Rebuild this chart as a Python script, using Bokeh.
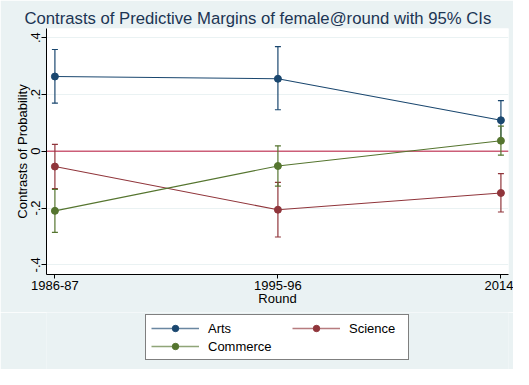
from bokeh.plotting import figure
from bokeh.layouts import column
from bokeh.models import (Range1d, FixedTicker, Whisker, TeeHead, Span,
                          Legend, LegendItem, ColumnDataSource)
from bokeh.embed import file_html
from bokeh.resources import INLINE

# ---- data ----
rounds = ["1986-87", "1995-96", "2014"]
round_pos = [1, 2, 3]

arts = [0.263, 0.255, 0.109]
arts_lo = [0.169, 0.146, 0.040]
arts_hi = [0.358, 0.368, 0.178]

science = [-0.054, -0.206, -0.147]
science_lo = [-0.132, -0.302, -0.214]
science_hi = [0.024, -0.110, -0.079]

commerce = [-0.210, -0.052, 0.037]
commerce_lo = [-0.286, -0.123, -0.014]
commerce_hi = [-0.134, 0.019, 0.088]

y_ticks = [-0.4, -0.2, 0, 0.2, 0.4]
y_tick_labels = ["-.4", "-.2", "0", ".2", ".4"]

series_names = ["Arts", "Science", "Commerce"]
colors = ["#1A476F", "#90353B", "#55752F"]

BG = "#EAF2F3"
FONT = "Liberation Sans"

p = figure(width=513, height=312, output_backend="svg", toolbar_location=None,
           x_range=Range1d(0.9623, 3.034), y_range=Range1d(-0.434, 0.432),
           min_border_left=46, min_border_right=5, min_border_top=28,
           min_border_bottom=38)
p.background_fill_color = "white"
p.border_fill_color = BG
p.outline_line_color = None

p.title.text = "Contrasts of Predictive Margins of female@round with 95% CIs"
p.title.align = "left"
p.title.offset = -22
p.title.standoff = 2
p.title.text_font = FONT
p.title.text_font_size = "16.7px"
p.title.text_font_style = "normal"
p.title.text_color = "#1C3553"

# axes
p.xaxis.ticker = FixedTicker(ticks=round_pos)
p.xaxis.major_label_overrides = {pos: lab for pos, lab in zip(round_pos, rounds)}
p.yaxis.ticker = FixedTicker(ticks=y_ticks)
p.yaxis.major_label_overrides = {t: l for t, l in zip(y_ticks, y_tick_labels)}
p.yaxis.major_label_orientation = "vertical"
for ax in (p.xaxis, p.yaxis):
    ax.axis_line_color = "#000000"
    ax.major_tick_line_color = "#000000"
    ax.minor_tick_line_color = None
    ax.major_tick_in = 0
    ax.major_label_text_font = FONT
    ax.major_label_text_font_size = "13px"
    ax.major_label_text_color = "#000000"
    ax.axis_label_text_font = FONT
    ax.axis_label_text_font_size = "13px"
    ax.axis_label_text_font_style = "normal"
    ax.axis_label_text_color = "#000000"
p.xaxis.major_tick_out = 4
p.yaxis.major_tick_out = 5
p.xaxis.major_label_standoff = 2
p.yaxis.major_label_standoff = 1
p.xaxis.axis_label = "Round"
p.yaxis.axis_label = "Contrasts of Probability"
p.xaxis.axis_label_standoff = -2
p.yaxis.axis_label_standoff = -1

p.xgrid.grid_line_color = None
p.ygrid.ticker = FixedTicker(ticks=y_ticks)
p.ygrid.grid_line_color = BG
p.ygrid.grid_line_width = 1

# reference line at zero
p.add_layout(Span(location=0, dimension="width", line_color="#CC5E78",
                  line_width=1.5, level="underlay"))

all_vals = [(arts, arts_lo, arts_hi), (science, science_lo, science_hi),
            (commerce, commerce_lo, commerce_hi)]
for name, col, (v, lo, hi) in zip(series_names, colors, all_vals):
    src = ColumnDataSource(dict(x=round_pos, y=v, lo=lo, hi=hi))
    w = Whisker(base="x", upper="hi", lower="lo", source=src, dimension="height",
                line_color=col, line_width=1.2,
                upper_head=TeeHead(size=6, line_color=col, line_width=1.2),
                lower_head=TeeHead(size=6, line_color=col, line_width=1.2))
    p.add_layout(w)
    p.line("x", "y", source=src, line_color=col, line_width=1.1)
    p.scatter("x", "y", source=src, size=7, fill_color=col, line_color=col,
              marker="circle")

# ---- legend strip below the plot (series drawn off-range: legend only) ----
q = figure(width=513, height=57, output_backend="svg", toolbar_location=None,
           x_range=Range1d(100, 101), y_range=Range1d(0, 1),
           x_axis_location=None, y_axis_location=None, min_border=0)
q.background_fill_color = BG
q.border_fill_color = BG
q.outline_line_color = None
q.grid.visible = False

leg_r = {}
for name, col, (v, lo, hi) in zip(series_names, colors, all_vals):
    src = ColumnDataSource(dict(x=round_pos, y=v))
    ln = q.line("x", "y", source=src, line_color=col, line_width=1.5, line_alpha=0.65)
    sc = q.scatter("x", "y", source=src, size=7, fill_color=col, line_color=col,
                   marker="circle")
    leg_r[name] = [ln, sc]

leg1 = Legend(items=[LegendItem(label="Arts", renderers=leg_r["Arts"]),
                     LegendItem(label="Commerce", renderers=leg_r["Commerce"])],
              location=(99, 9), orientation="vertical")
leg2 = Legend(items=[LegendItem(label="Science", renderers=leg_r["Science"])],
              location=(246, 33), orientation="vertical")
for lg in (leg1, leg2):
    lg.label_text_font = FONT
    lg.label_text_font_size = "13px"
    lg.label_text_color = "#000000"
    lg.glyph_width = 48
    lg.glyph_height = 16
    lg.label_height = 16
    lg.label_standoff = 9
    lg.spacing = 2
    lg.padding = 5
    lg.margin = 0
leg1.label_width = 195
leg1.border_line_color = "#000000"
leg1.border_line_width = 1
leg1.background_fill_color = "white"
leg1.background_fill_alpha = 1
leg2.border_line_color = None
leg2.background_fill_alpha = 0
q.add_layout(leg1)
q.add_layout(leg2)

layout = column(p, q, spacing=0)
open("out.html", "w").write(file_html(layout, INLINE))
